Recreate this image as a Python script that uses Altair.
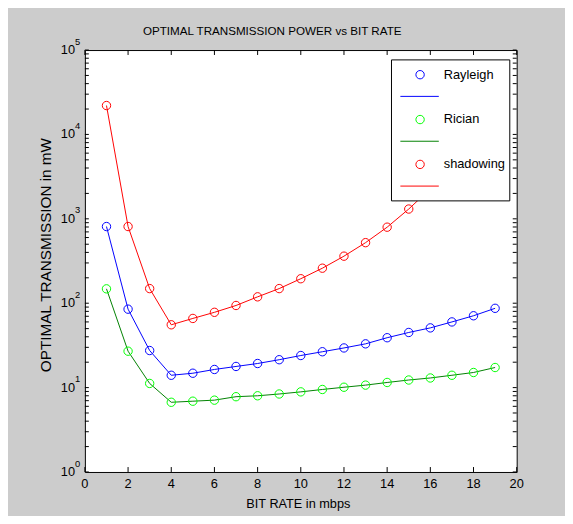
import altair as alt
import pandas as pd

# ---------------- data ----------------
bit_rate = list(range(1, 20))
rayleigh = [810, 85, 27.5, 14, 14.8, 16.4, 17.8, 19.3, 21.4, 24, 26.6, 29.5, 33, 39, 45, 51, 60, 71, 87]
rician = [148, 27, 11.2, 6.7, 6.9, 7.1, 7.8, 8.0, 8.4, 8.9, 9.5, 10.1, 10.7, 11.5, 12.3, 13, 14, 15.1, 17.3]
shadowing = [22000, 810, 149, 55.5, 66, 78, 94, 119, 149, 195, 260, 361, 522, 796, 1306, 2270, 4230, 8430, 18000]

series_names = ["Rayleigh", "Rician", "shadowing"]
marker_colors = ["#0000ff", "#00ff00", "#ff0000"]
line_colors = ["#0000ff", "#008000", "#ff0000"]

x_ticks = list(range(0, 21, 2))
y_major = [1, 10, 100, 1000, 10000, 100000]
y_exponents = ["0", "1", "2", "3", "4", "5"]
y_minor = [m * 10 ** k for k in range(5) for m in range(2, 10)]

TITLE = "OPTIMAL TRANSMISSION POWER vs BIT RATE"
XTITLE = "BIT RATE in mbps"
YTITLE = "OPTIMAL TRANSMISSION in mW"

FONT = "Liberation Sans"

W, H = 438, 428

rows = []
for name, vals, mc, lc in zip(series_names, [rayleigh, rician, shadowing], marker_colors, line_colors):
    for x, v in zip(bit_rate, vals):
        rows.append({"rate": x, "power": v, "series": name, "mcolor": mc, "lcolor": lc})
df = pd.DataFrame(rows)

xs = alt.Scale(domain=[0, 20], nice=False, zero=False)
ys = alt.Scale(type="log", domain=[1, 100000], nice=False)

X = lambda f: alt.X(f, type="quantitative", scale=xs, axis=None)
Y = lambda f: alt.Y(f, type="quantitative", scale=ys, axis=None)

lines = alt.Chart(df).mark_line(strokeWidth=1, clip=False).encode(
    x=X("rate"), y=Y("power"),
    color=alt.Color("lcolor:N", scale=None), detail="series:N",
)
points = alt.Chart(df).mark_point(shape="circle", filled=False, size=72, strokeWidth=1, opacity=1).encode(
    x=X("rate"), y=Y("power"),
    color=alt.Color("mcolor:N", scale=None),
)

one = pd.DataFrame({"a": [0]})

# legend
legend_box = alt.Chart(one).mark_rect(fill="white", stroke="black", strokeWidth=1).encode(
    x=alt.value(311), x2=alt.value(431), y=alt.value(10), y2=alt.value(153)
)
legend_layers = [legend_box]
for i, name in enumerate(series_names):
    my = 25 + i * 45.5
    legend_layers.append(alt.Chart(one).mark_point(shape="circle", filled=False, size=72, strokeWidth=1,
                                                   color=marker_colors[i], opacity=1).encode(
        x=alt.value(340), y=alt.value(my)))
    legend_layers.append(alt.Chart(one).mark_rule(color=line_colors[i], strokeWidth=1).encode(
        x=alt.value(320), x2=alt.value(359), y=alt.value(my + 22)))
    legend_layers.append(alt.Chart(one).mark_text(text=name, font=FONT, fontSize=13, align="left",
                                                  baseline="middle", color="black").encode(
        x=alt.value(364), y=alt.value(my)))

# ticks (inward, all four sides)
xt = pd.DataFrame({"t": x_ticks})
ymaj = pd.DataFrame({"t": y_major})
ymin = pd.DataFrame({"t": y_minor})
tick_layers = [
    alt.Chart(xt).mark_rule(color="black", strokeWidth=1).encode(x=X("t"), y=alt.value(H), y2=alt.value(H - 5)),
    alt.Chart(xt).mark_rule(color="black", strokeWidth=1).encode(x=X("t"), y=alt.value(0), y2=alt.value(5)),
]
for d in (ymaj, ymin):
    tick_layers.append(alt.Chart(d).mark_rule(color="black", strokeWidth=1).encode(y=Y("t"), x=alt.value(0), x2=alt.value(4)))
    tick_layers.append(alt.Chart(d).mark_rule(color="black", strokeWidth=1).encode(y=Y("t"), x=alt.value(W - 4), x2=alt.value(W)))

# tick labels
xlab = alt.Chart(xt).mark_text(font=FONT, fontSize=13, baseline="middle", align="center", color="black").encode(
    x=X("t"), y=alt.value(440), text=alt.Text("t:Q"))
ydf = pd.DataFrame({"t": y_major, "e": y_exponents})
ylab_base = alt.Chart(ydf).mark_text(text="10", font=FONT, fontSize=13, baseline="middle", align="right", color="black").encode(
    y=Y("t"), x=alt.value(-10))
ylab_exp = alt.Chart(ydf).mark_text(font=FONT, fontSize=9.5, baseline="middle", align="left", dy=-8.5, color="black").encode(
    y=Y("t"), x=alt.value(-10), text="e:N")

# titles
title = alt.Chart(one).mark_text(text=TITLE, font=FONT, fontSize=11.8, align="center", baseline="middle", color="black").encode(
    x=alt.value(190), y=alt.value(-19.5))
xtitle = alt.Chart(one).mark_text(text=XTITLE, font=FONT, fontSize=12.9, align="center", baseline="middle", color="black").encode(
    x=alt.value(216.5), y=alt.value(461))
ytitle = alt.Chart(one).mark_text(text=YTITLE, font=FONT, fontSize=15.5, angle=270, align="center", baseline="middle", color="black").encode(
    x=alt.value(-39), y=alt.value(208))

chart = alt.layer(
    lines, points, *legend_layers, *tick_layers, xlab, ylab_base, ylab_exp, title, xtitle, ytitle
).properties(
    width=W, height=H,
    autosize=alt.AutoSizeParams(type="none"),
    padding={"left": 78, "top": 39, "right": 49, "bottom": 41},
    background="#cccccc",
).configure_view(
    stroke="black", strokeWidth=1, fill="white"
)

chart.save("out.html", embed_options={"renderer": "svg", "actions": False})
